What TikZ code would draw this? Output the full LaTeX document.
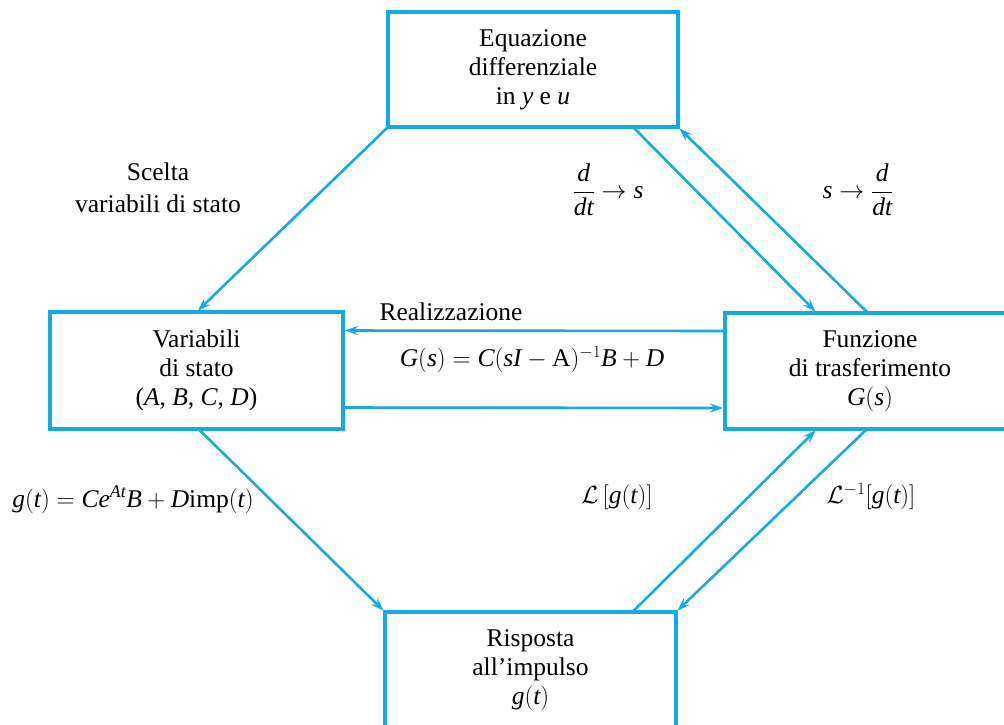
\documentclass[tikz,border=0pt]{standalone}
\usepackage{amsmath}
\usepackage{fontspec}
\setmainfont{Liberation Serif}
\usetikzlibrary{arrows.meta,calc}
\definecolor{cy}{RGB}{20,170,230}
\newcommand{\mi}[1]{\mathit{#1}}
\begin{document}
\begin{tikzpicture}[x=1pt,y=-1pt,
  box/.style={draw=cy,line width=4pt,outer sep=0pt,inner sep=0pt,align=center,
    font=\fontsize{25.5}{29}\selectfont},
  lbl/.style={align=center,inner sep=0pt,font=\fontsize{25.5}{32}\selectfont},
  arr/.style={draw=cy,line width=2.6pt,shorten >=2pt,
    -{Stealth[length=13pt,width=9pt,inset=4.5pt]}}]
\clip (0,0) rectangle (1004,724);
\fill[white] (0,0) rectangle (1004,724);
% boxes
\node[box,minimum width=290pt,minimum height=115pt] (top) at (533,69.5)
  {Equazione\\differenziale\\in $\mi{y}$ e $\mi{u}$};
\node[box,minimum width=293pt,minimum height=117pt] (left) at (196.5,370.5)
  {Variabili\\di stato\\($\mi{A}$, $\mi{B}$, $\mi{C}$, $\mi{D}$)};
\node[box,minimum width=290pt,minimum height=116pt] (right) at (870,371)
  {Funzione\\di trasferimento\\$\mi{G}(\mi{s})$};
\node[box,minimum width=291pt,minimum height=116pt] (bottom) at (530.5,670)
  {Risposta\\all’impulso\\$\mi{g}(\mi{t})$};
% connectors
\draw[arr] (top.south west) -- (left.north);
\draw[arr] ([xshift=100pt]top.south) -- ([xshift=-53pt]right.north);
\draw[arr] ([xshift=-2pt]right.north) -- (top.south east);
\draw[arr] ([yshift=40pt]right.west) -- ([yshift=40pt]left.east);
\draw[arr] ([yshift=-37pt]left.east) -- ([yshift=-37pt]right.west);
\draw[arr] ([xshift=2pt]left.south) -- (bottom.north west);
\draw[arr] ([xshift=102pt]bottom.north) -- ([xshift=-53pt]right.south);
\draw[arr] ([xshift=-3pt]right.south) -- (bottom.north east);
% labels
\node[lbl] (scelta) at (158,188) {Scelta\\variabili di stato};
\node[lbl] (dts) at (608,190) {$\dfrac{\mi{d}}{\mi{dt}}\to \mi{s}$};
\node[lbl] (sdt) at (858,190) {$\mi{s}\to\dfrac{\mi{d}}{\mi{dt}}$};
\node[lbl] (real) at (451,312) {Realizzazione};
\node[lbl] (gs) at (532,360) {$\mi{G}(\mi{s}) = \mi{C}(\mi{sI}-\mathrm{A})^{-1}\mi{B}+\mi{D}$};
\node[lbl] (gt) at (133,500) {$\mi{g}(\mi{t}) = \mi{Ce}^{\mi{At}}\mi{B}+\mi{D}\mathrm{imp}(\mi{t})$};
\node[lbl] (lap) at (617,497) {$\mathcal{L}\,[\mi{g}(\mi{t})]$};
\node[lbl] (ilap) at (871,497) {$\mathcal{L}^{-1}[\mi{g}(\mi{t})]$};
\end{tikzpicture}
\end{document}
